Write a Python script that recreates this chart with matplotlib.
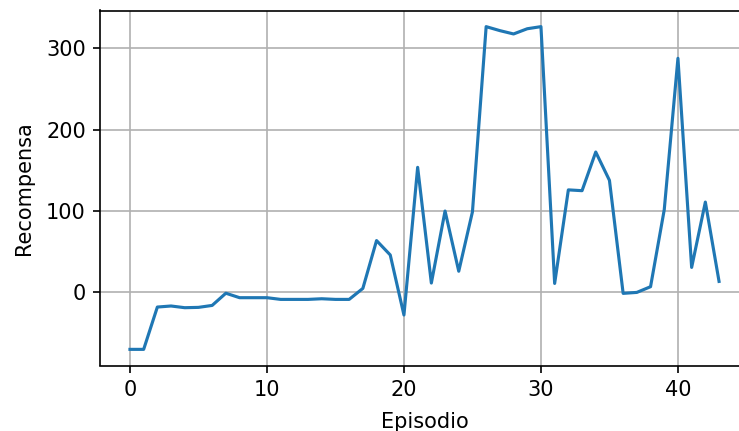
import matplotlib
matplotlib.use("Agg")
import matplotlib.pyplot as plt

episodes = list(range(44))
rewards = [-70, -70, -18, -16.7, -18.8, -18.4, -16, -1, -6.5, -6.5,
           -6.5, -8.6, -8.6, -8.6, -7.8, -8.6, -8.6, 4.9, 63.7, 46,
           -27.8, 153.7, 11.5, 100, 26, 99, 326.6, 321.7, 317.6, 324,
           326.6, 11, 126, 125, 172.5, 137.7, -1.2, 0, 7, 101.6,
           287.7, 30.7, 111, 13.5]

fig = plt.figure(figsize=(739/150, 431/150), dpi=150)
ax = fig.add_axes([100.5/739, 1 - 365.5/431, 648/739, 355/431])
ax.plot(episodes, rewards)
ax.set_xlabel("Episodio", labelpad=5.5)
ax.set_ylabel("Recompensa", labelpad=6)
ax.grid(True)
fig.savefig("out.png", dpi=150)
